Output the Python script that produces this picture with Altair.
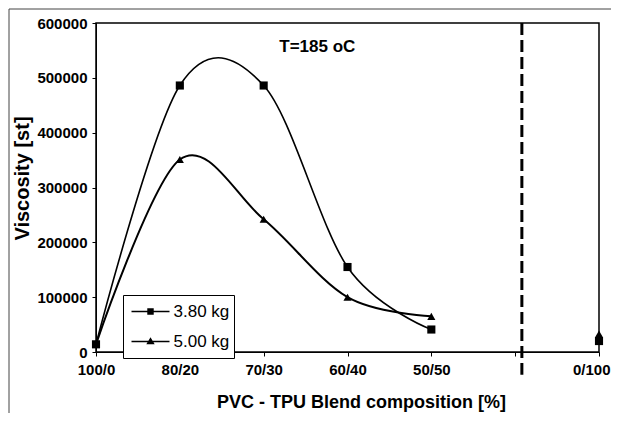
import altair as alt
import pandas as pd

# ---- data ----
tick_labels = ["100/0", "80/20", "70/30", "60/40", "50/50", "", "0/100"]
line_cats = ["100/0", "80/20", "70/30", "60/40", "50/50"]
v_380 = [14000, 486000, 486000, 155000, 41000]
v_500 = [14000, 351000, 242000, 100000, 65000]
end_cat = "0/100"
end_380 = 20000
end_500 = 33000
series_names = ["3.80 kg", "5.00 kg"]
divider_pos = 5.08
title_text = "T=185 oC"
title_pos = (2.64, 557000)

pos = {c: i for i, c in enumerate(tick_labels) if c}

rows = []
for name, vals, endv in [(series_names[0], v_380, end_380), (series_names[1], v_500, end_500)]:
    for c, v in zip(line_cats, vals):
        rows.append({"x": pos[c], "v": v, "series": name, "inline": True})
    rows.append({"x": pos[end_cat], "v": endv, "series": name, "inline": False})
df = pd.DataFrame(rows)

FONT = "Liberation Sans"
label_expr = "[" + ",".join("'" + t + "'" for t in tick_labels) + "][datum.value]"

xscale = alt.Scale(domain=[0, 6], nice=False, zero=False)
yscale = alt.Scale(domain=[0, 600000], nice=False)

xax = alt.X("x:Q", scale=xscale,
            axis=alt.Axis(values=list(range(7)), labelExpr=label_expr,
                          title="PVC - TPU Blend composition [%]",
                          titleFontSize=18, titleFont=FONT, titleFontWeight="bold",
                          titleX=265, titleY=50, titleBaseline="middle",
                          labelFontSize=15, labelFont=FONT,
                          labelFontWeight="bold", labelPadding=6, tickSize=4,
                          labelAlign=alt.ExprRef(expr="datum.value == 6 ? 'right' : 'center'"),
                          labelOffset=alt.ExprRef(expr="datum.value == 6 ? 11 : 0"),
                          grid=False, domainColor="black", tickColor="black",
                          labelColor="black", titleColor="black", labelFlush=False))
yax = alt.Y("v:Q", scale=yscale,
            axis=alt.Axis(values=list(range(0, 600001, 100000)), format="d",
                          title="Viscosity [st]", titleFontSize=20, titleFont=FONT,
                          titleFontWeight="bold", titlePadding=4,
                          titleY=155,
                          labelFontSize=15, labelFont=FONT, labelFontWeight="bold",
                          labelPadding=5, tickSize=4, grid=False,
                          domainColor="black", tickColor="black",
                          labelColor="black", titleColor="black"))

base = alt.Chart(df)

line380 = base.transform_filter(
    (alt.datum.inline == True) & (alt.datum.series == series_names[0])
).mark_line(interpolate="cardinal", tension=0, color="black", strokeWidth=1.6).encode(x=xax, y=yax)
line500 = base.transform_filter(
    (alt.datum.inline == True) & (alt.datum.series == series_names[1])
).mark_line(interpolate="cardinal", tension=0, color="black", strokeWidth=2).encode(x=xax, y=yax)

points = base.mark_point(filled=True, color="black", opacity=1, size=66).encode(
    x=xax, y=yax,
    shape=alt.Shape("series:N", scale=alt.Scale(domain=series_names, range=["square", "triangle-up"]),
                    legend=None),
)

# legend symbols: a thin filled bar (the line) plus the marker, all filled
sym_sq = "M-1,-0.04H1V0.04H-1ZM-0.17,-0.17H0.17V0.17H-0.17Z"
sym_tri = "M-1,-0.045H1V0.045H-1ZM-0.22,0.15L0,-0.22L0.22,0.15Z"
legend_layer = base.mark_point(filled=True, color="black", opacity=0).encode(
    x=xax, y=yax,
    shape=alt.Shape("series:N", scale=alt.Scale(domain=series_names, range=[sym_sq, sym_tri]),
                    legend=alt.Legend(title=None, orient="none", legendX=27, legendY=272,
                                      strokeColor="black", fillColor="white", padding=4.5,
                                      symbolSize=1444, symbolFillColor="black",
                                      symbolStrokeWidth=0,
                                      symbolOpacity=1, symbolOffset=4,
                                      labelFontSize=17, labelFont=FONT, labelColor="black",
                                      labelOffset=4, clipHeight=24, rowPadding=6)),
)

div_df = pd.DataFrame({"x": [divider_pos], "y1": [600000], "y2": [-41500]})
divider = alt.Chart(div_df).mark_rule(color="black", strokeWidth=3, strokeDash=[12, 5], clip=False).encode(
    x=alt.X("x:Q", scale=xscale), y=alt.Y("y1:Q", scale=yscale), y2="y2:Q")

t_df = pd.DataFrame({"x": [title_pos[0]], "y": [title_pos[1]], "t": [title_text]})
title = alt.Chart(t_df).mark_text(font=FONT, fontSize=17, fontWeight="bold", color="black").encode(
    x=alt.X("x:Q", scale=xscale), y=alt.Y("y:Q", scale=yscale), text="t:N")

frame_df = pd.DataFrame({"a": [0]})
frame_left = alt.Chart(frame_df).mark_rule(stroke="#444", strokeWidth=1, clip=False).encode(
    x=alt.value(-87), y=alt.value(-14), y2=alt.value(400))
frame_top = alt.Chart(frame_df).mark_rule(stroke="#444", strokeWidth=1, clip=False).encode(
    x=alt.value(-87), x2=alt.value(520), y=alt.value(-14))

chart = alt.layer(frame_left, frame_top, divider, line380, line500, points, legend_layer, title).resolve_scale(
    shape="independent"
).properties(
    width=503, height=329,
    padding={"left": 88, "top": 15, "right": 12, "bottom": 61},
    autosize=alt.AutoSizeParams(type="none"),
    background="white",
).configure_view(stroke="black", strokeWidth=1.5)

chart.save("out.html", embed_options={"renderer": "svg", "actions": False})
